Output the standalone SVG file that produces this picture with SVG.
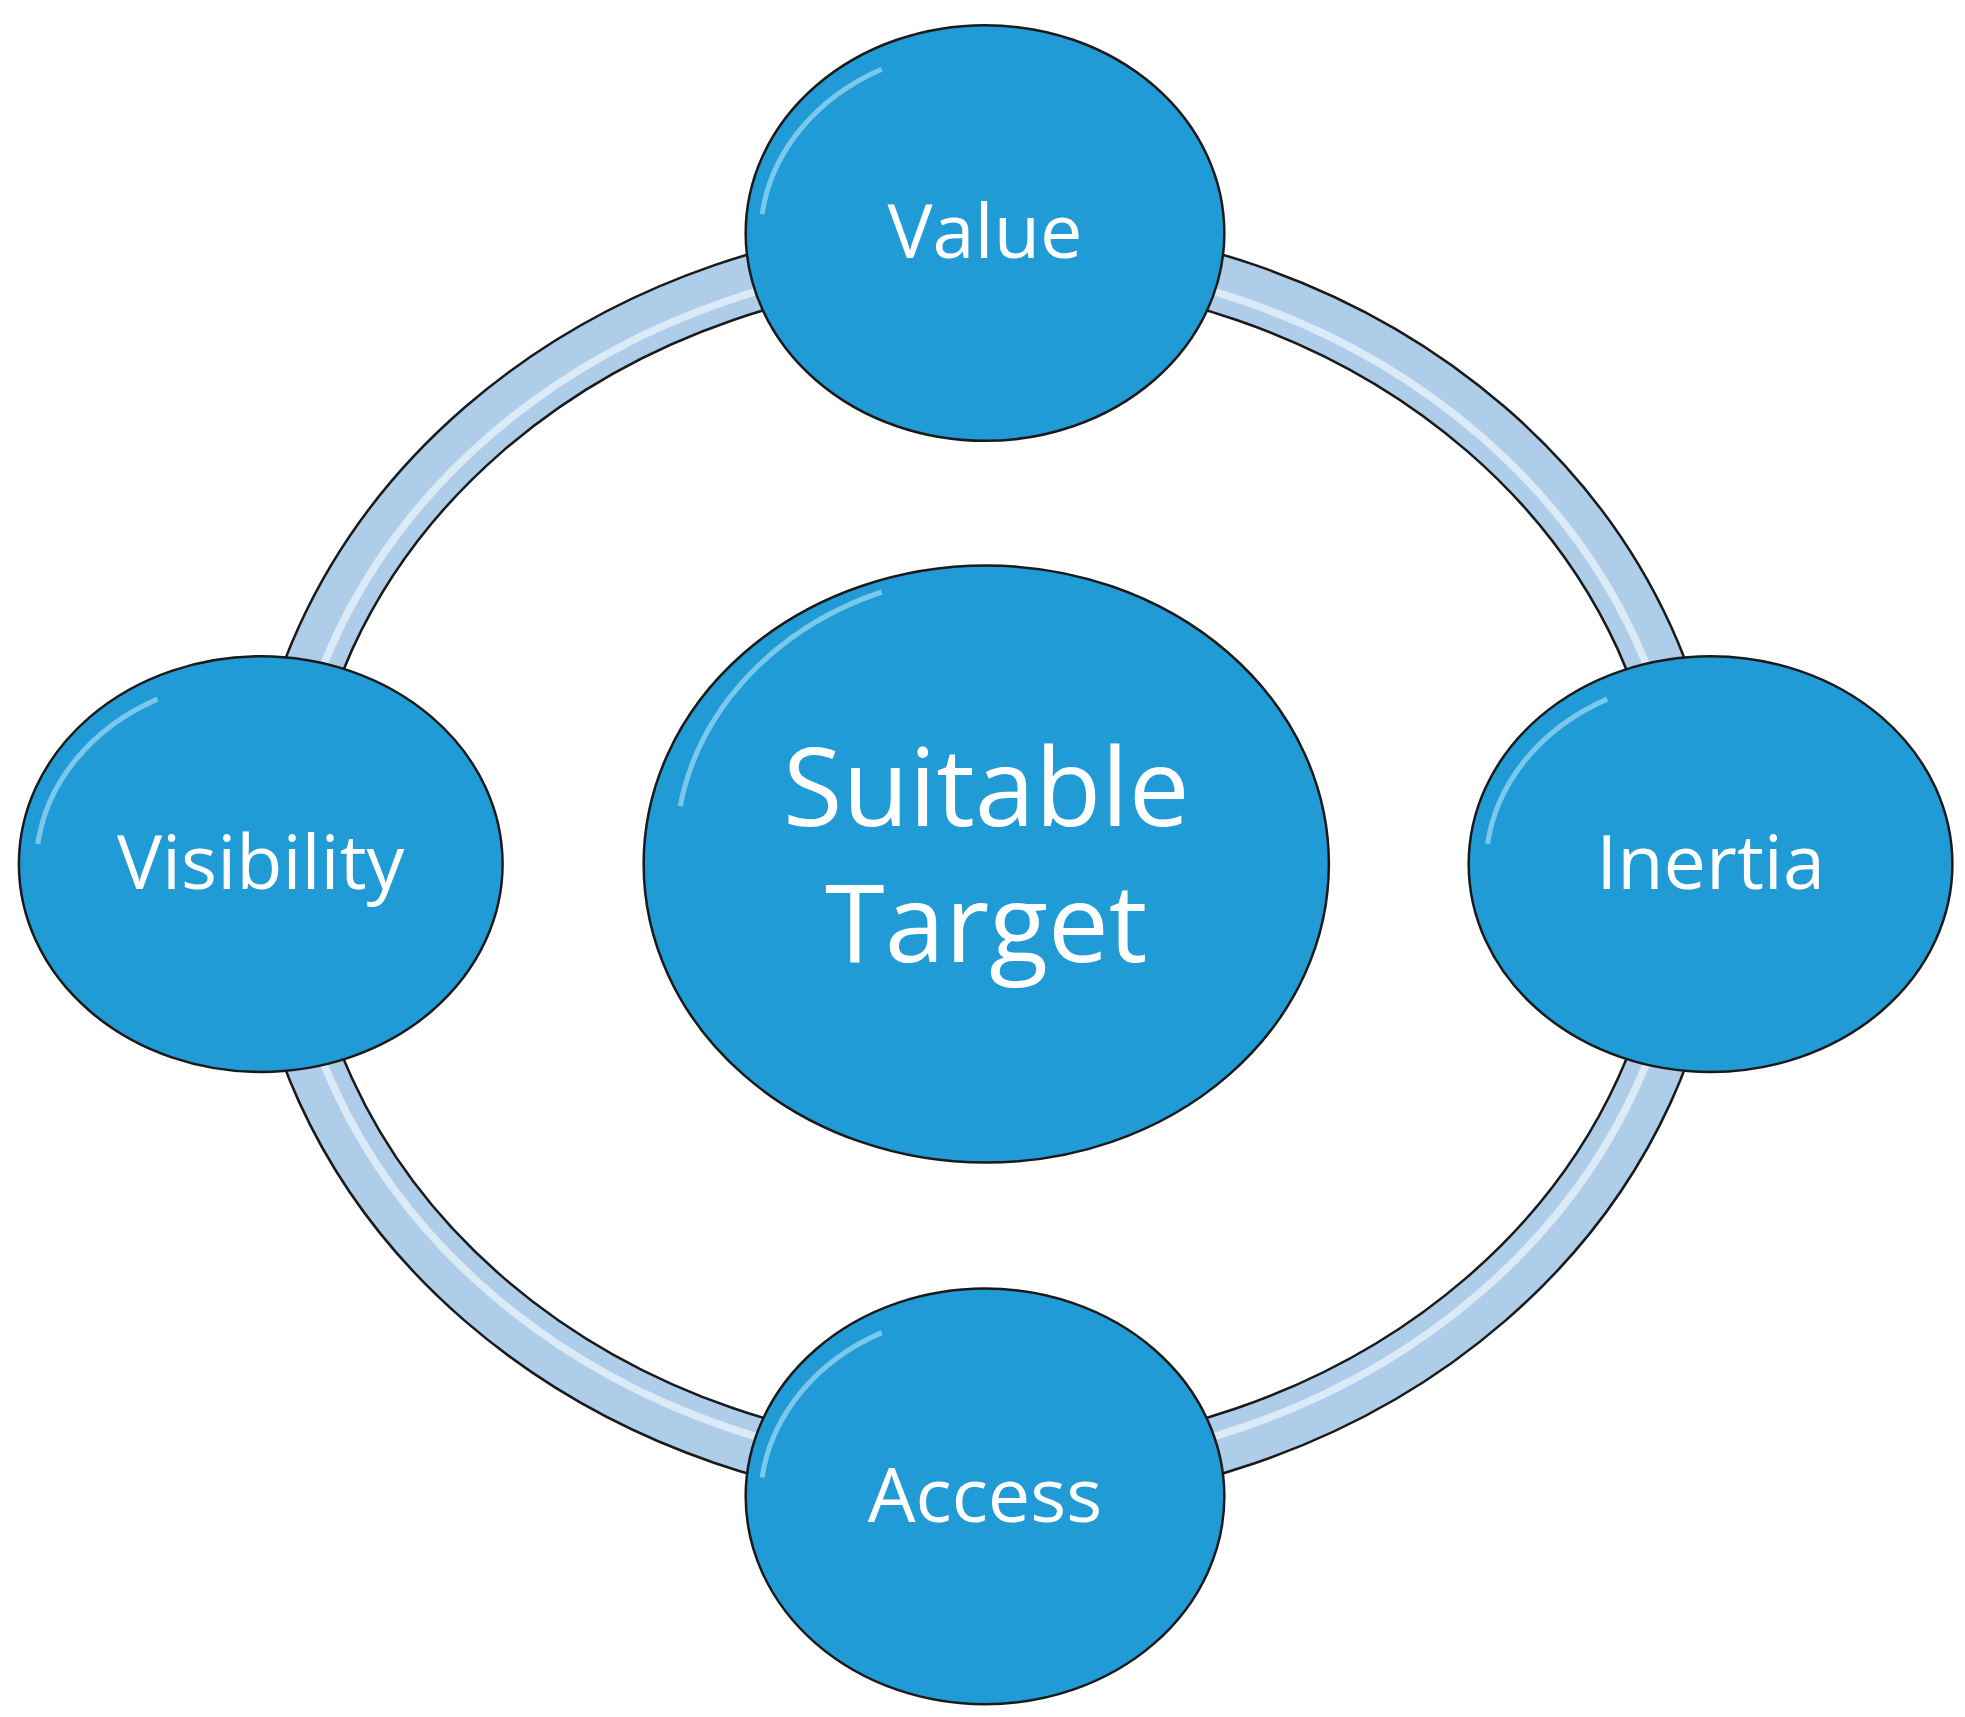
<svg xmlns="http://www.w3.org/2000/svg" width="1965" height="1717" viewBox="0 0 1965 1717">
<defs>
<style>
.n{fill:#209bd6;stroke:#1a1a1a;stroke-width:2}
.hl{fill:none;stroke:#b9e6fb;stroke-width:4;opacity:.6}
.t{font-family:"Open Sans","DejaVu Sans",sans-serif;fill:#fff;text-anchor:middle}
</style>
</defs>
<rect width="1965" height="1717" fill="#fff"/>
<g transform="scale(1.2596)">
<g id="connectors">
<ellipse cx="782" cy="686" rx="563" ry="488" fill="none" stroke="#1a1a1a" stroke-width="48"/>
<ellipse cx="782" cy="686" rx="563" ry="488" fill="none" stroke="#aecde9" stroke-width="44"/>
<ellipse cx="782" cy="686" rx="556" ry="481" fill="none" stroke="#dbeaf7" stroke-width="6"/>
</g>
<g id="center">
<ellipse class="n" cx="783" cy="686" rx="272" ry="237"/>
<path class="hl" d="M540 640 A255 222 0 0 1 700 470"/>
<text class="t" font-size="86" x="783" y="656">Suitable</text>
<text class="t" font-size="86" x="783" y="764">Target</text>
</g>
<g id="value">
<ellipse class="n" cx="782" cy="185" rx="190" ry="165"/>
<path class="hl" d="M605 170 A175 150 0 0 1 700 55"/>
<text class="t" font-size="60" x="782" y="205">Value</text>
</g>
<g id="visibility">
<ellipse class="n" cx="207" cy="686" rx="192" ry="165"/>
<path class="hl" d="M30 670 A177 150 0 0 1 125 555"/>
<text class="t" font-size="60" x="207" y="706">Visibility</text>
</g>
<g id="inertia">
<ellipse class="n" cx="1358" cy="686" rx="192" ry="165"/>
<path class="hl" d="M1181 670 A177 150 0 0 1 1276 555"/>
<text class="t" font-size="60" x="1358" y="706">Inertia</text>
</g>
<g id="access">
<ellipse class="n" cx="782" cy="1188" rx="190" ry="165"/>
<path class="hl" d="M605 1173 A175 150 0 0 1 700 1058"/>
<text class="t" font-size="60" x="782" y="1208">Access</text>
</g>
</g>
</svg>
